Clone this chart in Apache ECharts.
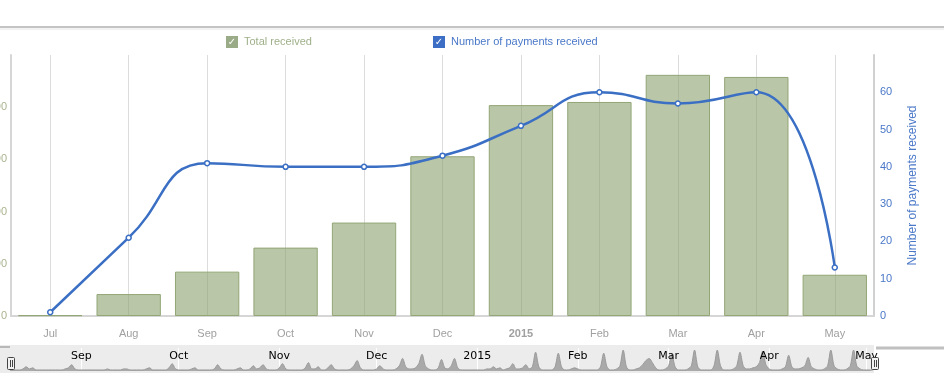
<!DOCTYPE html>
<html>
<head>
<meta charset="utf-8">
<script src="https://cdn.jsdelivr.net/npm/echarts@6/dist/echarts.min.js"></script>
<style>html,body{margin:0;padding:0;background:#fff}#c{width:944px;height:379px}</style>
</head>
<body>
<div id="c"></div>
<script>
// ---- data ----
const categories = ['Jul','Aug','Sep','Oct','Nov','Dec','2015','Feb','Mar','Apr','May'];
const totalReceived = [300, 8400, 17000, 26200, 35800, 61200, 80800, 82000, 92400, 91600, 15800];
const paymentsReceived = [1, 21, 41, 40, 40, 43, 51, 60, 57, 60, 13];
const leftTicks = [0, 20000, 40000, 60000, 80000, 100000];
const rightTicks = [0, 10, 20, 30, 40, 50, 60, 70];
// navigator: daily payments, Aug 10 2014 .. May 4 2015
const navValues = [
  1,1,1,1,2,4,2,3,1,1,
  1,1,1,1,1,1,1,2,3,6,
  2,1,1,1,1,1,1,1,1,1,
  2,1,1,1,1,2,2,1,1,1,
  1,1,2,3,1,1,1,1,1,3,
  7,2,1,1,1,1,2,3,1,1,
  1,1,1,2,6,2,1,1,1,1,
  2,3,1,1,2,5,2,3,6,2,
  1,1,1,3,7,2,1,1,1,1,
  1,3,8,2,2,4,1,1,3,6,
  2,1,1,1,1,2,5,10,3,1,
  1,1,1,2,5,2,1,1,1,2,
  5,12,4,2,2,3,7,16,5,2,
  1,1,3,11,3,2,5,12,3,1,
  1,1,1,1,1,1,1,2,2,4,
  2,3,1,2,3,7,2,2,3,6,
  2,4,18,4,1,1,1,1,4,17,
  4,1,1,2,3,2,1,1,1,1,
  1,1,4,17,4,1,1,2,5,20,
  4,1,1,2,3,6,10,12,8,3,
  1,1,2,5,16,4,1,1,1,2,
  5,20,4,1,1,1,1,5,20,5,
  1,1,1,2,5,18,5,2,2,3,
  4,8,19,6,2,1,1,1,2,4,
  15,4,2,2,3,5,13,4,2,1,
  1,2,5,20,5,2,1,1,2,5,
  20,5,2,1,1,1,1
];
const navTickIndex = [22, 52, 83, 113, 144, 175, 203, 234, 264];
const navTickLabels = ['Sep','Oct','Nov','Dec','2015','Feb','Mar','Apr','May'];

// ---- chart ----
const navDays = navValues.map((v, i) => String(i));
const isNavTick = (i) => navTickIndex.indexOf(i) >= 0;
const chart = echarts.init(document.getElementById('c'), null, {renderer: 'canvas'});
const font = 'Liberation Sans, Arial, Helvetica, sans-serif';

function legendItem(name, boxColor, textColor, left) {
  return {
    left: left, top: 36, icon: 'none', itemWidth: 0, itemHeight: 0, padding: 0,
    selectedMode: false,
    data: [name],
    formatter: '{b|\u2713}{t|' + name + '}',
    textStyle: {
      rich: {
        b: {backgroundColor: boxColor, color: '#fff', width: 12, height: 12, lineHeight: 12,
            align: 'center', fontSize: 10, fontFamily: 'DejaVu Sans'},
        t: {color: textColor, fontSize: 11, fontFamily: font, padding: [0, 0, 0, 6]}
      }
    }
  };
}

const navLabelFormatter = (v, i) => { const k = navTickIndex.indexOf(i); return k >= 0 ? navTickLabels[k] : ''; };

const option = {
  animation: false,
  textStyle: {fontFamily: font},
  legend: [
    legendItem('Total received', '#9aab87', '#9fb08a', 221),
    legendItem('Number of payments received', '#3b6ec4', '#4a78c8', 428)
  ],
  grid: [
    {left: 11, right: 70, top: 55, bottom: 63, containLabel: false, outerBoundsMode: 'none'},
    {left: 10, right: 71, top: 348, bottom: 8, containLabel: false, outerBoundsMode: 'none'}
  ],
  xAxis: [
    {type: 'category', gridIndex: 0, data: categories,
     axisLine: {show: true, lineStyle: {color: '#d6d6d6', width: 2}},
     axisTick: {show: false},
     axisLabel: {color: '#a0a0a0', fontSize: 11, margin: 12,
       formatter: (v) => v === '2015' ? '{b|2015}' : v,
       rich: {b: {fontWeight: 'bold', color: '#a0a0a0', fontSize: 11}}},
     splitLine: {show: false}},
    {type: 'value', gridIndex: 0, min: 0, max: 22, interval: 1,
     axisLine: {show: false}, axisTick: {show: false}, axisLabel: {show: false},
     splitLine: {show: true, lineStyle: {color: ['rgba(0,0,0,0)', '#dcdcdc'], width: 1}}},
    {type: 'category', gridIndex: 1, data: navDays, boundaryGap: false, z: 0,
     axisLine: {show: false}, axisTick: {show: false}, axisLabel: {show: false},
     splitLine: {show: true, interval: (i) => isNavTick(i), lineStyle: {color: '#ffffff', width: 1}}},
    {type: 'category', gridIndex: 1, data: navDays, boundaryGap: false, z: 10,
     axisLine: {show: false}, axisTick: {show: false}, splitLine: {show: false},
     axisLabel: {inside: true, margin: 3, color: '#000', fontSize: 11, fontFamily: 'DejaVu Sans',
       interval: (i) => isNavTick(i), formatter: navLabelFormatter}}
  ],
  yAxis: [
    {type: 'value', gridIndex: 0, position: 'left',
     min: leftTicks[0], max: leftTicks[leftTicks.length - 1], interval: leftTicks[1] - leftTicks[0],
     axisLine: {show: true, lineStyle: {color: '#d6d6d6', width: 2}},
     axisTick: {show: false}, splitLine: {show: false},
     axisLabel: {color: '#a9b48f', fontSize: 11, margin: 4, showMaxLabel: false}},
    {type: 'value', gridIndex: 0, position: 'right',
     min: rightTicks[0], max: rightTicks[rightTicks.length - 1], interval: rightTicks[1] - rightTicks[0],
     axisLine: {show: true, lineStyle: {color: '#d0d0d0', width: 2}},
     axisTick: {show: false}, splitLine: {show: false},
     axisLabel: {color: '#4a78c8', fontSize: 11, margin: 6, showMaxLabel: false},
     name: 'Number of payments received', nameLocation: 'middle', nameGap: 33, nameRotate: 90,
     nameTextStyle: {color: '#4a78c8', fontSize: 12}},
    {type: 'value', gridIndex: 1, min: 0, max: 22, show: false}
  ],
  series: [
    {name: 'Total received', type: 'bar', xAxisIndex: 0, yAxisIndex: 0, data: totalReceived,
     barCategoryGap: '18%', z: 2,
     itemStyle: {color: 'rgba(140,160,110,0.6)', borderColor: '#92a676', borderWidth: 1}},
    {name: 'Number of payments received', type: 'line', xAxisIndex: 0, yAxisIndex: 1,
     data: paymentsReceived, smooth: 0.5, z: 5,
     symbol: 'circle', symbolSize: 5, showSymbol: true,
     lineStyle: {color: '#3a6fc4', width: 2.5},
     itemStyle: {color: '#ffffff', borderColor: '#3a6fc4', borderWidth: 1.5}},
    {name: 'nav', type: 'line', xAxisIndex: 2, yAxisIndex: 2, data: navValues,
     smooth: 0.3, symbol: 'none', z: 3,
     lineStyle: {color: '#9a9a9a', width: 1},
     areaStyle: {color: '#a9a9a9', opacity: 1}}
  ],
  graphic: [
    {type: 'rect', z: -10, shape: {x: 0, y: 345, width: 874, height: 28}, style: {fill: '#ececec'}},
    {type: 'line', z: 10, shape: {x1: 0, y1: 27, x2: 944, y2: 27}, style: {stroke: '#c4c4c4', lineWidth: 2}},
    {type: 'line', z: 10, shape: {x1: 0, y1: 29, x2: 944, y2: 29}, style: {stroke: '#e6e6e6', lineWidth: 1}},
    {type: 'line', z: 10, shape: {x1: 0, y1: 347, x2: 10, y2: 347}, style: {stroke: '#b8b8b8', lineWidth: 2}},
    {type: 'line', z: 10, shape: {x1: 876, y1: 348, x2: 944, y2: 348}, style: {stroke: '#c0c0c0', lineWidth: 3}},
    {type: 'group', zlevel: 1, z: 100, children: [
      {type: 'rect', zlevel: 1, z: 100, shape: {x: 7.5, y: 357.5, width: 7, height: 12, r: 1}, style: {fill: '#f2f2f2', stroke: '#444', lineWidth: 1}},
      {type: 'line', zlevel: 1, z: 101, shape: {x1: 10.5, y1: 360, x2: 10.5, y2: 367}, style: {stroke: '#444', lineWidth: 1}},
      {type: 'line', zlevel: 1, z: 101, shape: {x1: 12.5, y1: 360, x2: 12.5, y2: 367}, style: {stroke: '#444', lineWidth: 1}},
      {type: 'rect', zlevel: 1, z: 100, shape: {x: 871.5, y: 357.5, width: 7, height: 12, r: 1}, style: {fill: '#f2f2f2', stroke: '#444', lineWidth: 1}},
      {type: 'line', zlevel: 1, z: 101, shape: {x1: 874.5, y1: 360, x2: 874.5, y2: 367}, style: {stroke: '#444', lineWidth: 1}},
      {type: 'line', zlevel: 1, z: 101, shape: {x1: 876.5, y1: 360, x2: 876.5, y2: 367}, style: {stroke: '#444', lineWidth: 1}}
    ]}
  ]
};
chart.setOption(option);
</script>
</body>
</html>
